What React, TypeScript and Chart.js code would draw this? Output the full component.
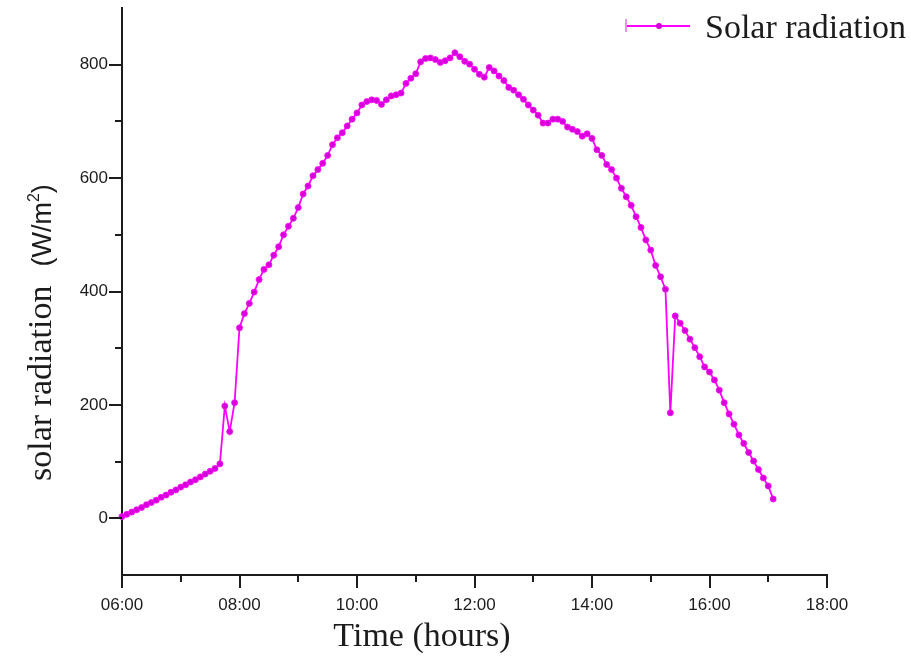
import React, { useEffect, useRef } from "react";
import { Chart, registerables } from "chart.js";

Chart.register(...registerables);

// ---------- data ----------
const times: string[] = [
  "06:00", "06:05", "06:10", "06:15", "06:20", "06:25", "06:30", "06:35", "06:40", "06:45", "06:50", "06:55",
  "07:00", "07:05", "07:10", "07:15", "07:20", "07:25", "07:30", "07:35", "07:40", "07:45", "07:50", "07:55",
  "08:00", "08:05", "08:10", "08:15", "08:20", "08:25", "08:30", "08:35", "08:40", "08:45", "08:50", "08:55",
  "09:00", "09:05", "09:10", "09:15", "09:20", "09:25", "09:30", "09:35", "09:40", "09:45", "09:50", "09:55",
  "10:00", "10:05", "10:10", "10:15", "10:20", "10:25", "10:30", "10:35", "10:40", "10:45", "10:50", "10:55",
  "11:00", "11:05", "11:10", "11:15", "11:20", "11:25", "11:30", "11:35", "11:40", "11:45", "11:50", "11:55",
  "12:00", "12:05", "12:10", "12:15", "12:20", "12:25", "12:30", "12:35", "12:40", "12:45", "12:50", "12:55",
  "13:00", "13:05", "13:10", "13:15", "13:20", "13:25", "13:30", "13:35", "13:40", "13:45", "13:50", "13:55",
  "14:00", "14:05", "14:10", "14:15", "14:20", "14:25", "14:30", "14:35", "14:40", "14:45", "14:50", "14:55",
  "15:00", "15:05", "15:10", "15:15", "15:20", "15:25", "15:30", "15:35", "15:40", "15:45", "15:50", "15:55",
  "16:00", "16:05", "16:10", "16:15", "16:20", "16:25", "16:30", "16:35", "16:40", "16:45", "16:50", "16:55",
  "17:00", "17:05",
];

const solarRadiation: number[] = [
  3, 7, 11, 15, 19, 24, 28, 32, 37, 41, 46, 50,
  55, 59, 64, 68, 73, 78, 83, 88, 96, 198, 153, 204,
  336, 361, 379, 399, 421, 439, 447, 464, 479, 500, 515, 529,
  548, 572, 586, 604, 615, 626, 640, 659, 671, 680, 692, 704,
  715, 729, 735, 738, 737, 730, 738, 745, 747, 750, 767, 776,
  784, 805, 811, 812, 809, 804, 807, 812, 821, 814, 806, 801,
  792, 783, 778, 795, 789, 780, 772, 760, 755, 747, 739, 729,
  720, 711, 697, 697, 704, 704, 700, 690, 686, 682, 674, 678,
  670, 650, 640, 624, 615, 600, 582, 567, 552, 532, 513, 491,
  473, 446, 426, 404, 186, 357, 344, 331, 316, 301, 285, 267,
  258, 244, 226, 204, 184, 166, 147, 132, 116, 101, 86, 71,
  57, 34,
];

const xMinHour = 6;
const xMaxHour = 18;
const yMin = -100;
const yMax = 900;
const yLabelValues = [0, 200, 400, 600, 800];

const seriesLabel = "Solar radiation";
const xTitle = "Time (hours)";
const yTitleMain = "solar radiation";
const yTitleUnitA = "(W/m";
const yTitleUnitSup = "2";
const yTitleUnitB = ")";

// ---------- styles ----------
const LINE_COLOR = "#ff00ff";
const POINT_COLOR = "#d600da";
const AXIS_COLOR = "#1c1c1c";
const TEXT_COLOR = "#1c1c1c";
const SANS = "'Liberation Sans', Arial, sans-serif";
const SERIF = "'Liberation Serif', 'Times New Roman', serif";

function toHours(t: string): number {
  const [h, m] = t.split(":").map(Number);
  return h + m / 60;
}

function fmtHour(h: number): string {
  return String(h).padStart(2, "0") + ":00";
}

const decorPlugin = {
  id: "decor",
  afterDraw(chart: any) {
    const { ctx, chartArea, scales } = chart;
    const xs = scales.x;
    const ys = scales.y;
    ctx.save();
    // tick marks (outward)
    ctx.strokeStyle = AXIS_COLOR;
    ctx.lineWidth = 2;
    ctx.beginPath();
    xs.ticks.forEach((t: any) => {
      const px = Math.round(xs.getPixelForValue(t.value));
      const len = t.value % 2 === 0 ? 13 : 7;
      ctx.moveTo(px, chartArea.bottom);
      ctx.lineTo(px, chartArea.bottom + len);
    });
    ys.ticks.forEach((t: any) => {
      if (t.value <= yMin || t.value >= yMax) return;
      const py = Math.round(ys.getPixelForValue(t.value));
      const len = t.value % 200 === 0 ? 13 : 7;
      ctx.moveTo(chartArea.left - len, py);
      ctx.lineTo(chartArea.left, py);
    });
    ctx.stroke();

    // x title
    ctx.fillStyle = TEXT_COLOR;
    ctx.font = `34px ${SERIF}`;
    ctx.textAlign = "center";
    ctx.textBaseline = "alphabetic";
    ctx.fillText(xTitle, 422, 646);

    // y title (rotated)
    ctx.save();
    ctx.translate(51, 481);
    ctx.rotate(-Math.PI / 2);
    ctx.textAlign = "left";
    ctx.font = `34px ${SERIF}`;
    ctx.fillText(yTitleMain, 0, 0);
    let x = ctx.measureText(yTitleMain).width + 19;
    ctx.font = `27px ${SANS}`;
    ctx.fillText(yTitleUnitA, x, 0);
    x += ctx.measureText(yTitleUnitA).width;
    ctx.font = `16px ${SANS}`;
    ctx.fillText(yTitleUnitSup, x, -12);
    x += ctx.measureText(yTitleUnitSup).width;
    ctx.font = `27px ${SANS}`;
    ctx.fillText(yTitleUnitB, x, 0);
    ctx.restore();

    // legend
    ctx.strokeStyle = "#e86ae8";
    ctx.lineWidth = 1.5;
    ctx.beginPath();
    ctx.moveTo(626, 19);
    ctx.lineTo(626, 32);
    ctx.stroke();
    ctx.strokeStyle = LINE_COLOR;
    ctx.lineWidth = 2;
    ctx.beginPath();
    ctx.moveTo(627, 26);
    ctx.lineTo(690, 26);
    ctx.stroke();
    ctx.fillStyle = POINT_COLOR;
    ctx.beginPath();
    ctx.arc(659, 26, 3, 0, Math.PI * 2);
    ctx.fill();
    ctx.fillStyle = TEXT_COLOR;
    ctx.font = `34px ${SERIF}`;
    ctx.textAlign = "left";
    ctx.fillText(seriesLabel, 705, 38);
    ctx.restore();
  },
};

export default function App() {
  const canvasRef = useRef<HTMLCanvasElement>(null);

  useEffect(() => {
    const canvas = canvasRef.current;
    if (!canvas) return;
    const points = times.map((t, i) => ({ x: toHours(t), y: solarRadiation[i] }));
    const chart = new Chart(canvas, {
      type: "line",
      data: {
        datasets: [
          {
            label: seriesLabel,
            data: points,
            borderColor: LINE_COLOR,
            borderWidth: 1.8,
            pointBackgroundColor: POINT_COLOR,
            pointBorderColor: LINE_COLOR,
            pointBorderWidth: 0.8,
            pointRadius: 3,
            tension: 0,
            clip: false as any,
          },
        ],
      },
      options: {
        animation: false,
        responsive: false,
        devicePixelRatio: 1,
        layout: { padding: { top: 8, right: 84, left: 0, bottom: 0 } },
        plugins: {
          legend: { display: false },
          tooltip: { enabled: false },
          title: { display: false },
        },
        scales: {
          x: {
            type: "linear",
            min: xMinHour,
            max: xMaxHour,
            grid: { display: false, drawTicks: false },
            border: { display: true, color: AXIS_COLOR, width: 2 },
            ticks: {
              stepSize: 1,
              autoSkip: false,
              maxRotation: 0,
              padding: 20,
              color: TEXT_COLOR,
              font: { family: SANS, size: 17 },
              callback: (v: any) => (Number(v) % 2 === 0 ? fmtHour(Number(v)) : ""),
            },
            afterFit: (scale: any) => {
              scale.height = 86;
            },
          },
          y: {
            type: "linear",
            min: yMin,
            max: yMax,
            grid: { display: false, drawTicks: false },
            border: { display: true, color: AXIS_COLOR, width: 2 },
            ticks: {
              stepSize: 100,
              autoSkip: false,
              padding: 14,
              color: TEXT_COLOR,
              font: { family: SANS, size: 17 },
              callback: (v: any) => (yLabelValues.includes(Number(v)) ? String(v) : ""),
            },
            afterFit: (scale: any) => {
              scale.width = 122;
              scale.paddingTop = 0;
              scale.paddingBottom = 0;
            },
          },
        },
      },
      plugins: [decorPlugin],
    });
    return () => chart.destroy();
  }, []);

  return (
    <div style={{ position: "absolute", left: 0, top: 0, width: 911, height: 661, background: "#fff" }}>
      <canvas ref={canvasRef} width={911} height={661} style={{ display: "block", width: 911, height: 661 }} />
    </div>
  );
}
